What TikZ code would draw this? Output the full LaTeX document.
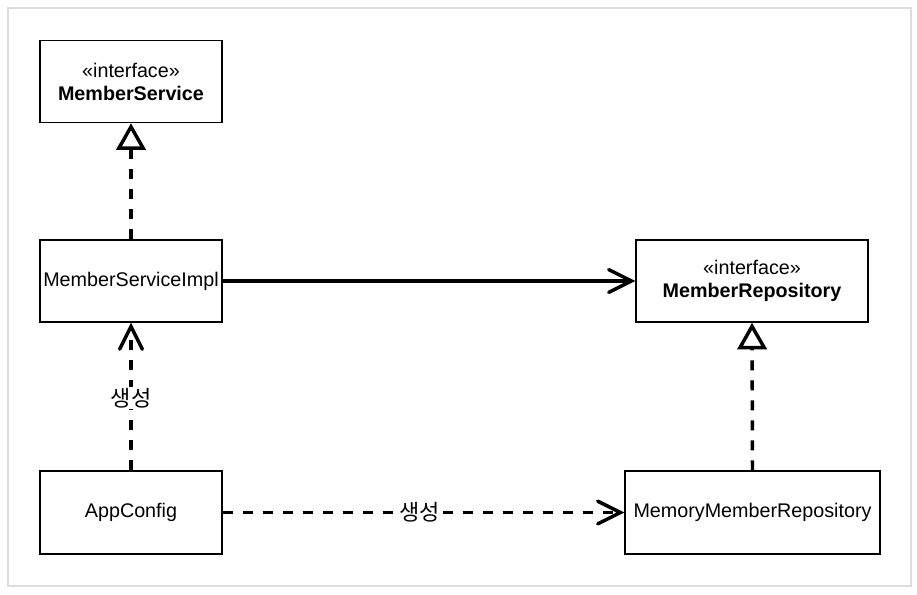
\documentclass[tikz,border=0pt]{standalone}
\usepackage{fontspec}
\setmainfont{Liberation Sans}
\newfontfamily\kr{Noto Sans CJK KR}
\usetikzlibrary{arrows.meta}
\begin{document}
\begin{tikzpicture}[x=0.75pt,y=-0.75pt,
  box/.style={draw=black, line width=1.1pt, fill=white, inner sep=0pt, align=center,
    font=\fontsize{14.8}{17.25}\selectfont},
  conn/.style={line width=2.6pt, black},
  dsh/.style={dash pattern=on 7.5pt off 7.5pt},
  realize/.style={conn, dsh, -{Triangle[open, fill=white, length=20pt, width=22pt]}},
  openarr/.style={-{Straight Barb[length=17pt, width=17pt, line cap=round]}},
  lbl/.style={fill=white, inner sep=1pt, font=\kr\fontsize{16.5}{18}\selectfont}]
\useasboundingbox (0,0) rectangle (917,594);
\draw[line width=1.1pt, draw={rgb,255:red,221;green,221;blue,221}] (8,8) rectangle (911,586);

\node[box, minimum width={182*0.75pt}, minimum height={82*0.75pt}] (ms) at (131,81.5)
  {«interface»\\\textbf{MemberService}};
\node[box, minimum width={182*0.75pt}, minimum height={82*0.75pt}] (msi) at (131,281)
  {MemberServiceImpl};
\node[box, minimum width={182*0.75pt}, minimum height={83*0.75pt}] (app) at (131,512.5)
  {AppConfig};
\node[box, minimum width={232*0.75pt}, minimum height={82*0.75pt}] (mr) at (752,281)
  {«interface»\\\textbf{MemberRepository}};
\node[box, minimum width={255*0.75pt}, minimum height={83*0.75pt}] (mmr) at (752.5,512.5)
  {MemoryMemberRepository};

\draw[realize] (msi.north) -- (ms.south);
\draw[realize] (mmr.north) -- (mr.south);
\draw[conn, openarr] (msi.east) -- (mr.west);
\draw[conn, dsh, openarr] (app.north) -- node[lbl, pos=0.49] (l1) {생성} (msi.south);
\draw[conn, dsh, openarr] (app.east) -- node[lbl, pos=0.49] (l2) {생성} (mmr.west);
\end{tikzpicture}
\end{document}
